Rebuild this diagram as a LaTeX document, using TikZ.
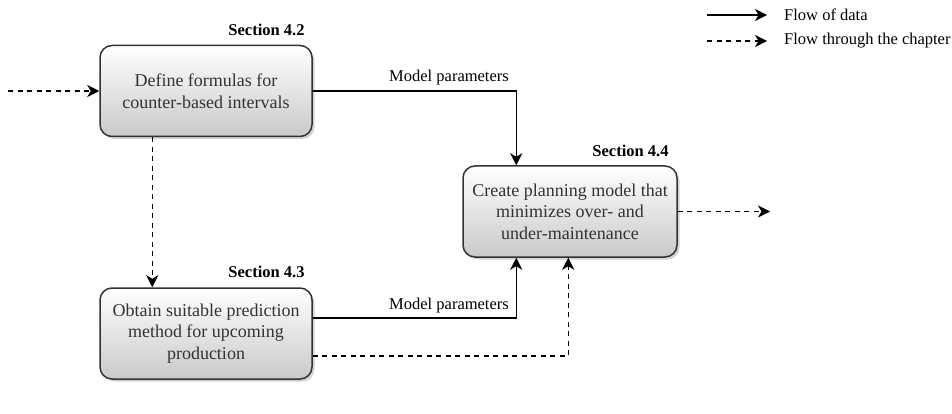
\documentclass[tikz,border=0pt]{standalone}
\usepackage{fontspec}
\setmainfont{Liberation Serif}
\usetikzlibrary{arrows.meta,shadows,calc}

\definecolor{boxline}{HTML}{333333}
\definecolor{boxtext}{HTML}{333333}

\tikzset{
  stepbox/.style={
    draw=boxline, line width=1.5pt, rounded corners=12pt,
    top color=white, bottom color=gray!42,
    minimum width=212pt, minimum height=91pt, inner sep=2pt,
    align=center, text=boxtext,
    font=\fontsize{18}{21.6}\selectfont,
    drop shadow={shadow xshift=2.5pt, shadow yshift=-2.5pt, opacity=0.35, fill=gray}
  },
  seclabel/.style={anchor=east, inner sep=0pt, font=\fontsize{16.5}{19}\selectfont\bfseries},
  edgelabel/.style={anchor=south east, inner sep=0pt, font=\fontsize{16.5}{19}\selectfont},
  legendtext/.style={anchor=west, inner sep=0pt, font=\fontsize{16.5}{19}\selectfont},
  tip/.style={-{Stealth[length=12pt,width=12pt,inset=3.5pt]}},
  flowdata/.style={tip, line width=1.4pt, draw=black},
  flowchap/.style={tip, line width=1.4pt, draw=black, dash pattern=on 5pt off 4.5pt}
}

\begin{document}
\begin{tikzpicture}[x=1pt,y=-1pt]
  \useasboundingbox (0,0) rectangle (952,414);

  % process boxes
  \node[stepbox] (b1) at (206,91) {Define formulas for\\counter-based intervals};
  \node[stepbox] (b2) at (206,333.5) {Obtain suitable prediction\\method for upcoming\\production};
  \node[stepbox, minimum width=214pt] (b3) at (570,211.5) {Create planning model that\\minimizes over- and\\under-maintenance};

  % section headings
  \node[seclabel] (s1) at ([xshift=-8pt,yshift=15pt]b1.north east) {Section 4.2};
  \node[seclabel] (s2) at ([xshift=-8pt,yshift=15pt]b2.north east) {Section 4.3};
  \node[seclabel] (s3) at ([xshift=-9pt,yshift=14pt]b3.north east) {Section 4.4};

  % chapter flow in and out
  \coordinate (start) at (8,91);
  \coordinate (finish) at (770,211.5);
  \draw[flowchap] (start) -- (b1.west);
  \draw[flowchap] (b3.east) -- (finish);

  % flow from 4.2 to 4.3
  \draw[flowchap] ([xshift=53pt]b1.south west) -- ([xshift=53pt]b2.north west);

  % model parameters from 4.2
  \draw[flowdata] (b1.east) -| ([xshift=54pt]b3.north west);
  \node[edgelabel] (m1) at (509,85) {Model parameters};

  % model parameters from 4.3
  \draw[flowdata] ([yshift=15.5pt]b2.east) -| ([xshift=54pt]b3.south west);
  \node[edgelabel] (m2) at (509,313) {Model parameters};

  % chapter flow from 4.3 to 4.4
  \draw[flowchap] ([yshift=-22.5pt]b2.east) -| ([xshift=106pt]b3.south west);

  % legend
  \coordinate (l1a) at (707,15);
  \coordinate (l1b) at (767,15);
  \coordinate (l2a) at (707,41);
  \coordinate (l2b) at (767,41);
  \draw[flowdata] (l1a) -- (l1b);
  \draw[flowchap] (l2a) -- (l2b);
  \node[legendtext] (t1) at (784,15) {Flow of data};
  \node[legendtext] (t2) at (784,41) {Flow through the chapter};
\end{tikzpicture}
\end{document}
